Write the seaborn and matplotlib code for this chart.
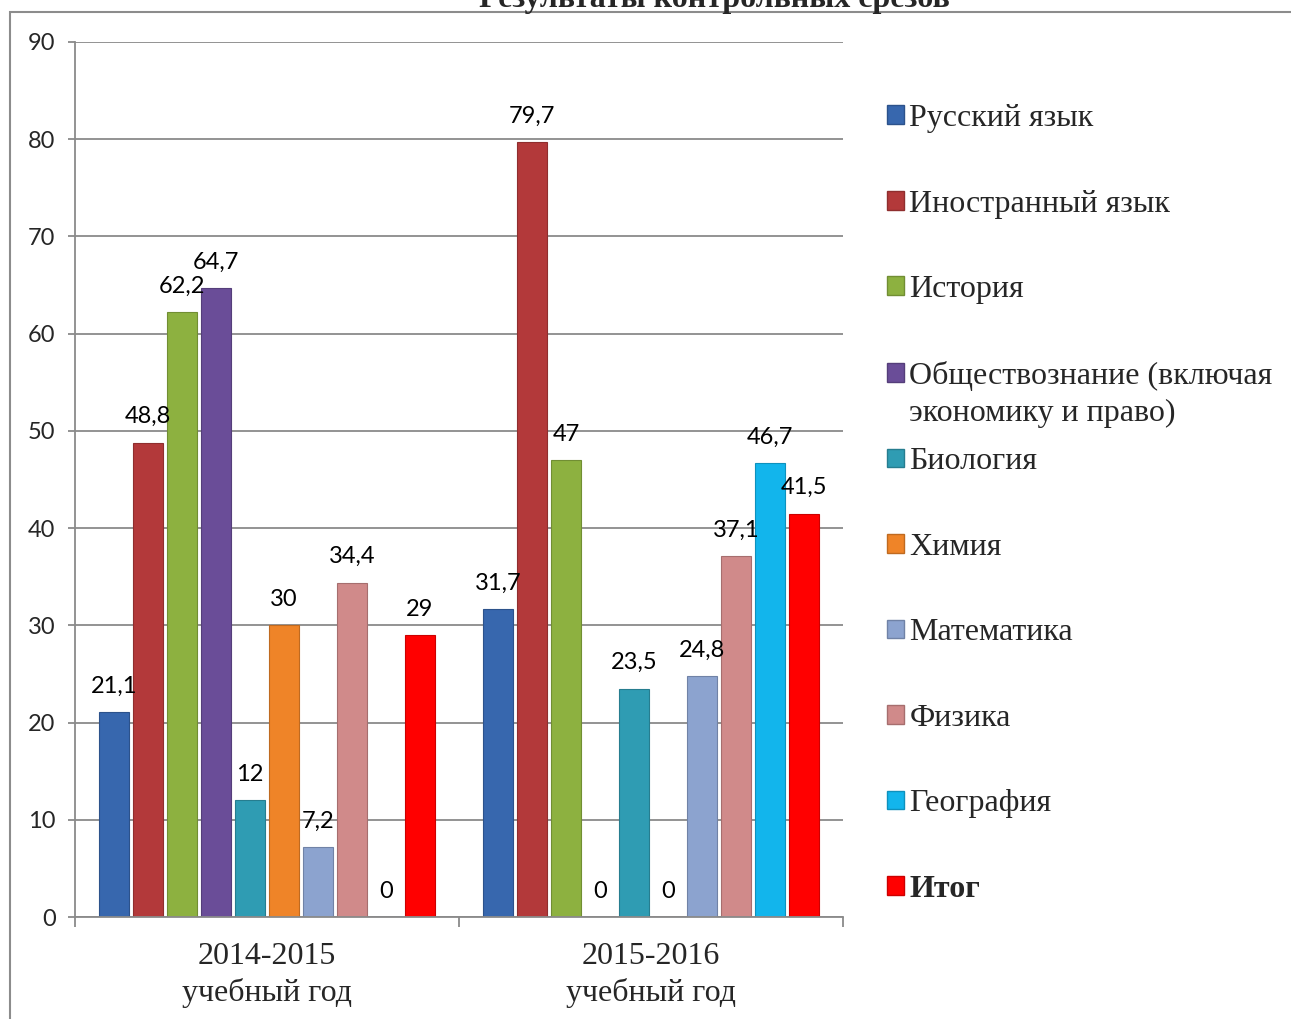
import matplotlib
matplotlib.use("Agg")
import matplotlib.pyplot as plt
import matplotlib.patches as mpatches
from matplotlib.transforms import IdentityTransform
import pandas as pd
import seaborn as sns

years = ["2014-2015\nучебный год", "2015-2016\nучебный год"]
subjects = ["Русский язык", "Иностранный язык", "История",
            "Обществознание (включая экономику и право)", "Биология", "Химия",
            "Математика", "Физика", "География", "Итог"]
scores_2014 = [21.1, 48.8, 62.2, 64.7, 12, 30, 7.2, 34.4, 0, 29]
scores_2015 = [31.7, 79.7, 47, 0, 23.5, 0, 24.8, 37.1, 46.7, 41.5]
colors = ["#3767AE", "#B3393A", "#8DB140", "#6A4D98", "#2F9CB3",
          "#EF8428", "#8CA3CF", "#D08A8A", "#12B5EC", "#FF0000"]

rows = []
for s, a, b in zip(subjects, scores_2014, scores_2015):
    rows.append({"year": years[0], "subject": s, "score": a})
    rows.append({"year": years[1], "subject": s, "score": b})
df = pd.DataFrame(rows)

sns.set_style("white")
serif = ["Liberation Serif", "DejaVu Serif"]
sans = ["Lato", "DejaVu Sans"]

fig = plt.figure(figsize=(12.91, 10.19), dpi=100)
ax = fig.add_axes([75 / 1291, 102 / 1019, 768 / 1291, 875 / 1019])

sns.barplot(data=df, x="year", y="score", hue="subject", hue_order=subjects,
            palette=colors, saturation=1, width=0.885, gap=0.12, errorbar=None,
            legend=False, ax=ax)

for cont in ax.containers:
    for p in cont:
        fc = p.get_facecolor()
        p.set_edgecolor(tuple(c * 0.8 for c in fc[:3]))
        p.set_linewidth(0.8)

# value labels with comma decimals
for i, cont in enumerate(ax.containers):
    vals = [scores_2014[i], scores_2015[i]]
    labs = [f"{v:g}".replace(".", ",") for v in vals]
    ax.bar_label(cont, labels=labs, padding=11, fontsize=17, family=sans, color="black")

ax.set_ylim(0, 90)
ax.set_xlim(-0.5, 1.5)
ax.set_yticks(range(0, 91, 10))
ax.yaxis.grid(True, color="#8a8a8a", linewidth=1.3)
ax.set_axisbelow(True)
ax.set_xlabel("")
ax.set_ylabel("")
for side in ["top", "right"]:
    ax.spines[side].set_visible(False)
for side in ["left", "bottom"]:
    ax.spines[side].set_color("#8a8a8a")
    ax.spines[side].set_linewidth(1.3)

ax.tick_params(axis="y", length=5, width=1.3, color="#8a8a8a", pad=9, left=True)
for t in ax.get_yticklabels():
    t.set_fontfamily(sans)
    t.set_fontsize(17)

ax.set_xticks([-0.5, 0.5, 1.5], minor=True)
ax.tick_params(axis="x", which="minor", length=7, width=1.3, color="#8a8a8a", bottom=True)
ax.tick_params(axis="x", which="major", length=0, pad=18)
ax.set_xticks([0, 1])
ax.set_xticklabels(years, fontsize=23, family=serif, linespacing=1.3)

# legend
handles = [mpatches.Patch(facecolor=c, edgecolor=tuple(x * 0.8 for x in matplotlib.colors.to_rgb(c)))
           for c in colors]
labels = list(subjects)
labels[3] = "Обществознание (включая"
leg = fig.legend(handles, labels, loc="upper left", bbox_to_anchor=(887 / 1291, 1 - 104 / 1019),
                 frameon=False, borderpad=0, borderaxespad=0, handlelength=0.52,
                 handleheight=0.52, handletextpad=0.18, labelspacing=1.77,
                 prop={"family": serif, "size": 23})
leg.get_texts()[-1].set_fontweight("bold")

fig.canvas.draw()
bb = leg.get_texts()[3].get_window_extent()
fig.text(bb.x0, bb.y0 - 37, "экономику и право)", transform=IdentityTransform(),
         ha="left", va="bottom", family=serif, fontsize=23)

# title, cut off at the top as in the source
fig.text(714 / 1291, 1 - 7 / 1019, "Результаты контрольных срезов", ha="center",
         va="baseline", family=serif, fontsize=23, fontweight="bold")

# outer chart frame
fig.patches.append(mpatches.Rectangle((10 / 1291, -0.05), 1.2, 1 - 12 / 1019 + 0.05,
                                      transform=fig.transFigure, fill=False,
                                      edgecolor="#8c8c8c", linewidth=1.5))

fig.savefig("out.png", dpi=100)
